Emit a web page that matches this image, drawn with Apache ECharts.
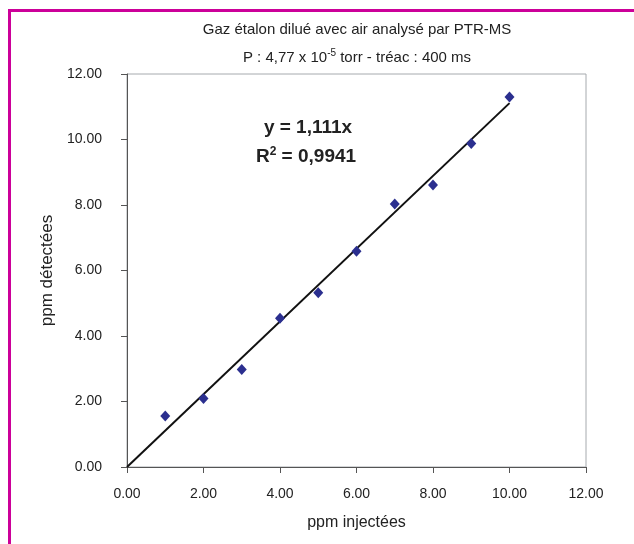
<!DOCTYPE html>
<html>
<head>
<meta charset="utf-8">
<script src="https://cdn.jsdelivr.net/npm/echarts@6/dist/echarts.min.js"></script>
<style>html,body{margin:0;padding:0;background:#fff}#c{width:634px;height:544px}</style>
</head>
<body>
<div id="c"></div>
<script>
const injected = [1, 2, 3, 4, 5, 6, 7, 8, 9, 10];
const detected = [1.56, 2.09, 2.98, 4.54, 5.32, 6.59, 8.03, 8.61, 9.88, 11.30];
const slope = 1.111;
const trendX = [0, 10];
const titleLine1 = 'Gaz étalon dilué avec air analysé par PTR-MS';
const equationText = 'y = 1,111x';

const chart = echarts.init(document.getElementById('c'));
const font = 'Liberation Sans, Arial, sans-serif';
const col = '#222';
chart.setOption({
  animation: false,
  backgroundColor: '#fff',
  textStyle: { fontFamily: font },
  graphic: [{
    type: 'rect', shape: { x: 9.5, y: 10.5, width: 640, height: 560 },
    style: { fill: 'none', stroke: '#cc0099', lineWidth: 3 }, silent: true, z: 100
  }, {
    type: 'text', x: 357, y: 30, silent: true,
    style: { text: titleLine1, align: 'center', verticalAlign: 'middle',
      fontSize: 15, fontFamily: font, fill: col }
  }, {
    type: 'text', x: 357, y: 58, silent: true,
    style: {
      text: '{n|P : 4,77 x 10}{s|-5}{n| torr - tréac : 400 ms}',
      align: 'center', verticalAlign: 'middle',
      rich: {
        n: { fontSize: 15, fontFamily: font, fill: col, fontWeight: 'normal' },
        s: { fontSize: 10, fontFamily: font, fill: col, fontWeight: 'normal', verticalAlign: 'top', padding: [0, 0, 9, 0] }
      }
    }
  }, {
    type: 'text', x: 308, y: 128, silent: true,
    style: { text: equationText, align: 'center', verticalAlign: 'middle',
      fontSize: 19, fontWeight: 'bold', fontFamily: font, fill: col }
  }, {
    type: 'text', x: 306, y: 157, silent: true,
    style: {
      text: '{b|R}{s|2}{b| = 0,9941}',
      align: 'center', verticalAlign: 'middle',
      rich: {
        b: { fontSize: 19, fontWeight: 'bold', fontFamily: font, fill: col },
        s: { fontSize: 12, fontWeight: 'bold', fontFamily: font, fill: col, verticalAlign: 'top', padding: [0, 0, 10, 0] }
      }
    }
  }],
  grid: {
    left: 127, top: 74, right: 48, bottom: 77,
    show: true, borderColor: '#a6aaae', borderWidth: 1, backgroundColor: 'transparent'
  },
  xAxis: {
    type: 'value', min: 0, max: 12, interval: 2,
    name: 'ppm injectées', nameLocation: 'middle', nameGap: 48,
    nameTextStyle: { fontSize: 16, color: col, fontFamily: font },
    axisLine: { show: true, lineStyle: { color: '#555', width: 1 } },
    axisTick: { show: true, length: 6, lineStyle: { color: '#555' } },
    axisLabel: { fontSize: 14, color: col, margin: 20, formatter: v => v.toFixed(2), fontFamily: font },
    splitLine: { show: false }
  },
  yAxis: {
    type: 'value', min: 0, max: 12, interval: 2,
    name: 'ppm détectées', nameLocation: 'middle', nameGap: 65,
    nameTextStyle: { fontSize: 17, color: col, fontFamily: font },
    axisLine: { show: true, lineStyle: { color: '#555', width: 1 } },
    axisTick: { show: true, length: 6, lineStyle: { color: '#555' } },
    axisLabel: { fontSize: 14, color: col, margin: 25, formatter: v => v.toFixed(2), fontFamily: font },
    splitLine: { show: false }
  },
  series: [{
    type: 'line',
    data: trendX.map(x => [x, +(slope * x).toFixed(3)]),
    showSymbol: false, symbol: 'none',
    lineStyle: { color: '#111', width: 2 }, z: 2
  }, {
    type: 'scatter',
    data: injected.map((x, i) => [x, detected[i]]),
    symbol: 'diamond', symbolSize: [10, 11],
    itemStyle: { color: '#2b2f8f', opacity: 1 }, z: 3
  }]
});
</script>
</body>
</html>
